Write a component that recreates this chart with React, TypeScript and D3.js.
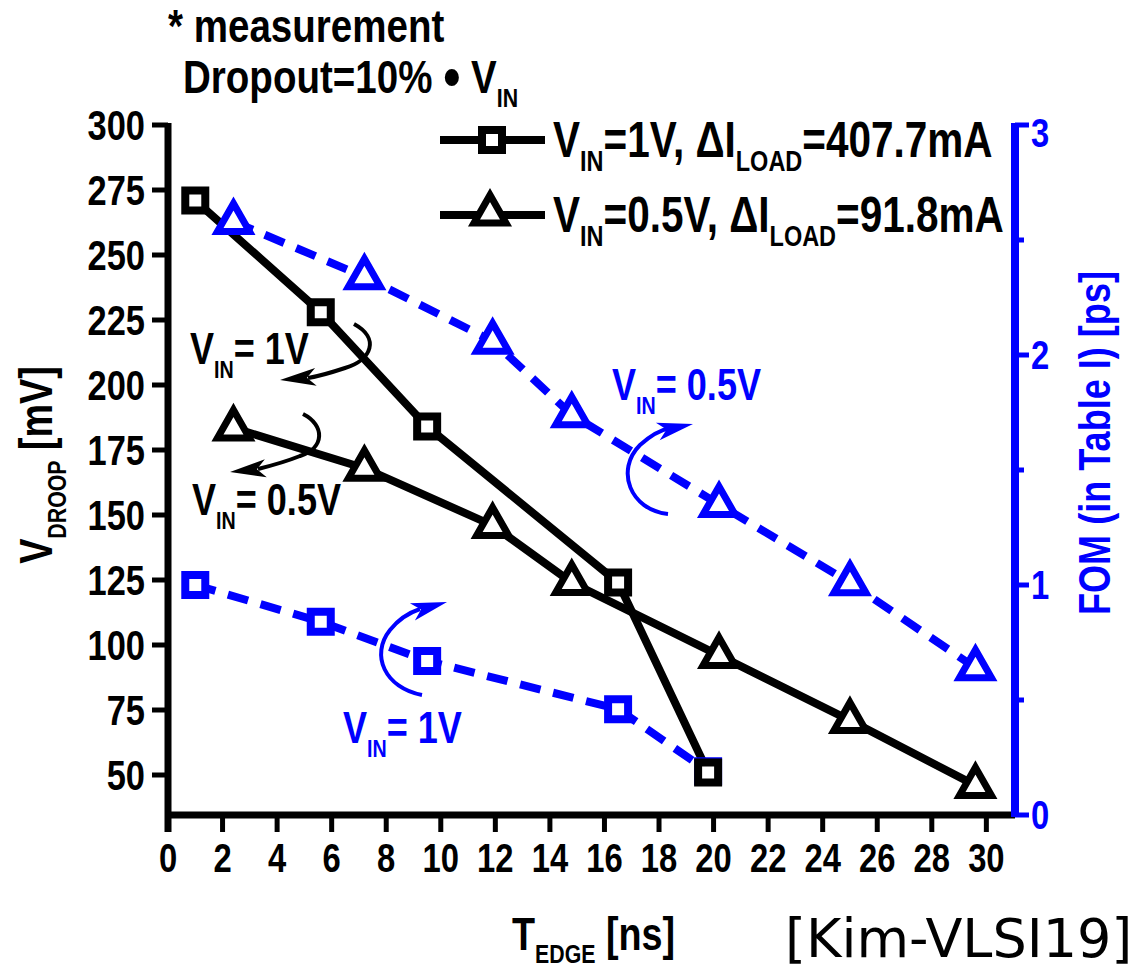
import React from "react";
import * as d3 from "d3";

// ---------- data ----------
const tEdge1V = [1.0, 5.6, 9.5, 16.5, 19.8];
const vDroop1V = [271, 228, 184, 124, 51];
const fom1V = [1.0, 0.84, 0.67, 0.46, 0.19];

const tEdge05V = [2.4, 7.2, 11.9, 14.8, 20.2, 25.0, 29.6];
const vDroop05V = [183.5, 168, 146, 124, 96, 71, 46];
const fom05V = [2.58, 2.34, 2.06, 1.74, 1.35, 1.01, 0.64];

const xTicks = [0, 2, 4, 6, 8, 10, 12, 14, 16, 18, 20, 22, 24, 26, 28, 30];
const yLeftTicks = [50, 75, 100, 125, 150, 175, 200, 225, 250, 275, 300];
const yRightMajor = [0, 1, 2, 3];
const yRightMinor = [0.5, 1.5, 2.5];

const W = 1146;
const H = 969;
const FONT = "'Liberation Sans', Arial, sans-serif";
const BLUE = "#0000ff";
const SX = 0.82; // narrow-font emulation

const left = 168, right = 1015, top = 125, bottom = 815;

const x = d3.scaleLinear().domain([0, 31.05]).range([left, right]);
const yL = d3.scaleLinear().domain([50, 300]).range([775, top]);
const yR = d3.scaleLinear().domain([0, 3]).range([bottom, top]);

function squarePath(cx: number, cy: number, s = 10) {
  return `M${cx - s},${cy - s}H${cx + s}V${cy + s}H${cx - s}Z`;
}
function triPath(cx: number, cy: number) {
  return `M${cx},${cy - 18}L${cx + 16},${cy + 10}L${cx - 16},${cy + 10}Z`;
}
function arrowHead(tx: number, ty: number, angDeg: number, len = 36, hw = 9, notch = 9) {
  const a = (angDeg * Math.PI) / 180;
  const dx = Math.cos(a), dy = Math.sin(a);
  const px = -dy, py = dx;
  const bx = tx - len * dx, by = ty - len * dy;
  const nx = tx - (len - notch) * dx, ny = ty - (len - notch) * dy;
  return `M${tx},${ty}L${bx + hw * px},${by + hw * py}L${nx},${ny}L${bx - hw * px},${by - hw * py}Z`;
}

const lineGen = d3.line<[number, number]>();

function NText({ x, y, rotate, sx = SX, children, ...rest }: any) {
  return (
    <g transform={`translate(${x},${y})${rotate ? ` rotate(${rotate})` : ""} scale(${sx},1)`}>
      <text x={0} y={0} {...rest}>{children}</text>
    </g>
  );
}

function Sub({ main, sub, rest, fs, sfs, dy }: any) {
  return (
    <>
      <tspan fontSize={fs}>{main}</tspan>
      <tspan fontSize={sfs} dy={dy}>{sub}</tspan>
      <tspan fontSize={fs} dy={-dy}>{rest}</tspan>
    </>
  );
}

export default function App() {
  const pts1L: [number, number][] = tEdge1V.map((t, i) => [x(t), yL(vDroop1V[i])]);
  const pts05L: [number, number][] = tEdge05V.map((t, i) => [x(t), yL(vDroop05V[i])]);
  const pts1R: [number, number][] = tEdge1V.map((t, i) => [x(t), yR(fom1V[i])]);
  const pts05R: [number, number][] = tEdge05V.map((t, i) => [x(t), yR(fom05V[i])]);

  return (
    <svg width={W} height={H} style={{ position: "absolute", left: 0, top: 0, background: "#fff" }}
      fontFamily={FONT} fontWeight="bold">
      <rect width={W} height={H} fill="#fff" />

      {/* title */}
      <NText x={168} y={42} fontSize={47}>* measurement</NText>
      <NText x={183} y={93}>
        <tspan fontSize={47}>Dropout=10% </tspan>
        <tspan fontSize={60} dy={4}>•</tspan>
        <tspan fontSize={47} dy={-4}> V</tspan>
        <tspan fontSize={26} dy={14}>IN</tspan>
      </NText>

      {/* lines */}
      <path d={lineGen(pts1R)!} fill="none" stroke={BLUE} strokeWidth={8} strokeDasharray="21 13" />
      <path d={lineGen(pts05R)!} fill="none" stroke={BLUE} strokeWidth={8} strokeDasharray="21 13" />
      <path d={lineGen(pts1L)!} fill="none" stroke="#000" strokeWidth={8} />
      <path d={lineGen(pts05L)!} fill="none" stroke="#000" strokeWidth={8} />

      {/* markers */}
      {pts1R.map(([px, py], i) => (
        <path key={"b1" + i} d={squarePath(px, py)} fill="#fff" stroke={BLUE} strokeWidth={8} />
      ))}
      {pts05R.map(([px, py], i) => (
        <path key={"b05" + i} d={triPath(px, py)} fill="#fff" stroke={BLUE} strokeWidth={7} strokeLinejoin="miter" />
      ))}
      {pts1L.map(([px, py], i) => (
        <path key={"k1" + i} d={squarePath(px, py)} fill="#fff" stroke="#000" strokeWidth={8} />
      ))}
      {pts05L.map(([px, py], i) => (
        <path key={"k05" + i} d={triPath(px, py)} fill="#fff" stroke="#000" strokeWidth={7} strokeLinejoin="miter" />
      ))}

      {/* left axis */}
      <line x1={left} x2={left} y1={top - 2} y2={bottom + 17} stroke="#000" strokeWidth={7} />
      {yLeftTicks.map((v) => (
        <g key={"yl" + v}>
          <line x1={left - 16} x2={left} y1={yL(v)} y2={yL(v)} stroke="#000" strokeWidth={5} />
          <NText x={145} y={yL(v)} dy="0.36em" textAnchor="end" fontSize={42}>{v}</NText>
        </g>
      ))}

      {/* bottom axis */}
      <line x1={left} x2={right} y1={bottom} y2={bottom} stroke="#000" strokeWidth={7} />
      {xTicks.map((v) => (
        <g key={"x" + v}>
          <line x1={x(v)} x2={x(v)} y1={bottom} y2={bottom + 17} stroke="#000" strokeWidth={5} />
          <NText x={x(v)} y={872} textAnchor="middle" fontSize={40}>{v}</NText>
        </g>
      ))}

      {/* right axis */}
      <line x1={right} x2={right} y1={top - 2} y2={bottom + 2} stroke={BLUE} strokeWidth={8} />
      {yRightMajor.map((v) => (
        <g key={"yr" + v}>
          <line x1={right} x2={right + 14} y1={yR(v)} y2={yR(v)} stroke={BLUE} strokeWidth={5} />
          <NText x={1031} y={yR(v) + (v === 3 ? 8 : 0)} dy="0.36em" fontSize={40} fill={BLUE}>{v}</NText>
        </g>
      ))}
      {yRightMinor.map((v) => (
        <line key={"yrm" + v} x1={right} x2={right + 9} y1={yR(v)} y2={yR(v)} stroke={BLUE} strokeWidth={5} />
      ))}

      {/* axis labels */}
      <NText x={52} y={465} rotate={-90} textAnchor="middle">
        <Sub main="V" sub="DROOP" rest=" [mV]" fs={46} sfs={26} dy={14} />
      </NText>
      <NText x={512} y={950}>
        <Sub main="T" sub="EDGE" rest=" [ns]" fs={46} sfs={26} dy={13} />
      </NText>
      <NText x={1110} y={443} rotate={-90} textAnchor="middle" fontSize={44} fill={BLUE}>
        FOM (in Table I) [ps]
      </NText>
      <text x={785} y={957} fontFamily="'DejaVu Sans', Verdana, sans-serif" fontWeight="normal" fontSize={54}>
        [Kim-VLSI19]
      </text>

      {/* legend */}
      <line x1={440} x2={545} y1={140} y2={140} stroke="#000" strokeWidth={8} />
      <path d={squarePath(492, 140)} fill="#fff" stroke="#000" strokeWidth={8} />
      <NText x={553} y={157} sx={0.81}>
        <tspan fontSize={50}>V</tspan>
        <tspan fontSize={29} dy={14}>IN</tspan>
        <tspan fontSize={50} dy={-14}>=1V, ΔI</tspan>
        <tspan fontSize={29} dy={14}>LOAD</tspan>
        <tspan fontSize={50} dy={-14}>=407.7mA</tspan>
      </NText>
      <line x1={440} x2={545} y1={215} y2={215} stroke="#000" strokeWidth={8} />
      <path d={triPath(490, 213)} fill="#fff" stroke="#000" strokeWidth={7} />
      <NText x={553} y={232} sx={0.81}>
        <tspan fontSize={50}>V</tspan>
        <tspan fontSize={29} dy={14}>IN</tspan>
        <tspan fontSize={50} dy={-14}>=0.5V, ΔI</tspan>
        <tspan fontSize={29} dy={14}>LOAD</tspan>
        <tspan fontSize={50} dy={-14}>=91.8mA</tspan>
      </NText>

      {/* annotations */}
      <NText x={190} y={364}>
        <Sub main="V" sub="IN" rest="= 1V" fs={44} sfs={24} dy={14} />
      </NText>
      <path d="M354,324 C380,338 372,360 345,368 C330,373 320,376 308,378" fill="none" stroke="#000" strokeWidth={4} />
      <path d={arrowHead(280, 380, 175)} fill="#000" />

      <NText x={192} y={515}>
        <Sub main="V" sub="IN" rest="= 0.5V" fs={44} sfs={24} dy={14} />
      </NText>
      <path d="M303,414 C325,425 325,448 300,456 C285,462 270,466 258,469" fill="none" stroke="#000" strokeWidth={4} />
      <path d={arrowHead(230, 472, 174)} fill="#000" />

      <NText x={612} y={400} fill={BLUE}>
        <Sub main="V" sub="IN" rest="= 0.5V" fs={44} sfs={24} dy={14} />
      </NText>
      <path d="M668,514 C630,510 615,470 640,445 C650,436 660,430 670,428" fill="none" stroke={BLUE} strokeWidth={4} />
      <path d={arrowHead(693, 424, -12)} fill={BLUE} />

      <NText x={343} y={743} fill={BLUE}>
        <Sub main="V" sub="IN" rest="= 1V" fs={44} sfs={24} dy={14} />
      </NText>
      <path d="M422,695 C385,688 370,655 390,630 C398,620 408,613 420,609" fill="none" stroke={BLUE} strokeWidth={4} />
      <path d={arrowHead(447, 602, -16)} fill={BLUE} />
    </svg>
  );
}
